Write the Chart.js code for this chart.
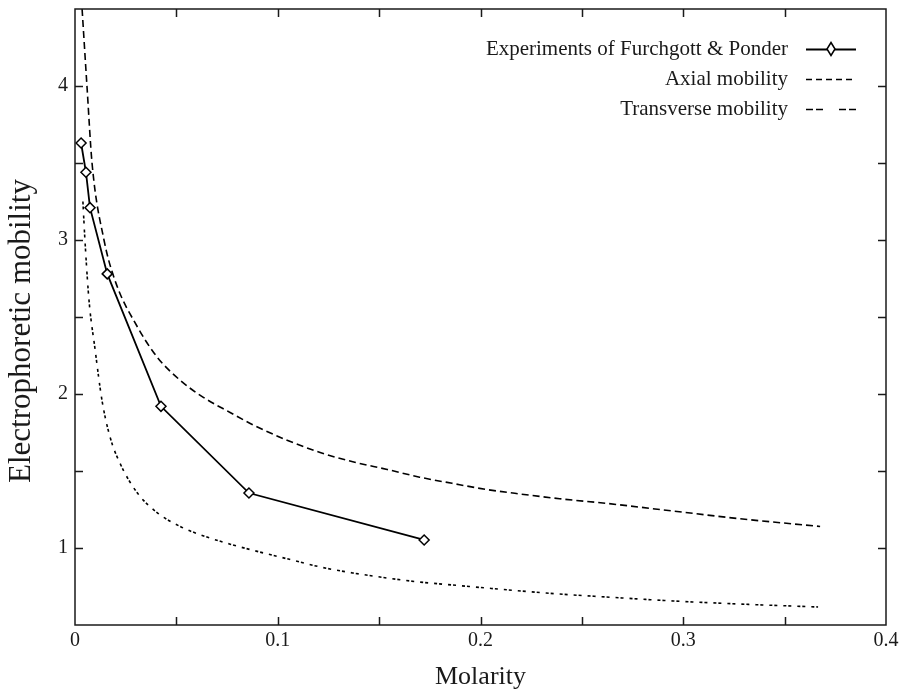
<!DOCTYPE html>
<html>
<head>
<meta charset="utf-8">
<script src="https://cdn.jsdelivr.net/npm/chart.js@4.4.0/dist/chart.umd.min.js"></script>
<style>
html,body{margin:0;padding:0;background:#ffffff;}
#wrap{width:903px;height:696px;}
</style>
</head>
<body>
<div id="wrap"><canvas id="c" width="903" height="696"></canvas></div>
<script>
// ---- data ----
const seriesLabels = ['Experiments of Furchgott & Ponder', 'Axial mobility', 'Transverse mobility'];

const expX = [0.0030, 0.0054, 0.0074, 0.0159, 0.0424, 0.0858, 0.1722];
const expY = [3.63, 3.44, 3.21, 2.78, 1.92, 1.357, 1.052];

const axialX = [0.0035, 0.0059, 0.0084, 0.0143, 0.0202, 0.0306, 0.0405, 0.0518, 0.0631, 0.0765, 0.0878, 0.1046, 0.1209, 0.137, 0.154, 0.170, 0.186, 0.203, 0.220, 0.239, 0.262, 0.295, 0.328, 0.3675];
const axialY = [4.5, 4.0, 3.5, 3.0, 2.72, 2.44, 2.24, 2.09, 1.98, 1.88, 1.80, 1.70, 1.62, 1.56, 1.51, 1.46, 1.42, 1.38, 1.35, 1.32, 1.29, 1.24, 1.19, 1.14];

const transX = [0.0039, 0.0049, 0.0069, 0.0099, 0.0133, 0.0173, 0.0222, 0.0306, 0.0405, 0.0518, 0.0631, 0.0765, 0.0878, 0.1046, 0.1209, 0.137, 0.154, 0.170, 0.186, 0.203, 0.220, 0.239, 0.262, 0.295, 0.328, 0.3665];
const transY = [3.25, 3.0, 2.61, 2.29, 1.96, 1.72, 1.55, 1.36, 1.23, 1.14, 1.08, 1.025, 0.985, 0.93, 0.877, 0.838, 0.805, 0.779, 0.760, 0.740, 0.721, 0.701, 0.682, 0.656, 0.636, 0.617];

const xTickLabels = ['0', '0.1', '0.2', '0.3', '0.4'];
const yTickLabels = ['1', '2', '3', '4'];
const xTitle = 'Molarity';
const yTitle = 'Electrophoretic mobility';

// ---- build ----
const pts = (xs, ys) => xs.map((x, i) => ({x: x, y: ys[i]}));
const FONT = '"Liberation Serif", "Times New Roman", serif';
const INK = '#1a1a1a';

const frameAndTicks = {
  id: 'frameAndTicks',
  afterDatasetsDraw(chart) {
    const {ctx, chartArea: a, scales: {x, y}} = chart;
    ctx.save();
    ctx.strokeStyle = INK;
    ctx.lineWidth = 1.5;
    const L = 8;
    ctx.beginPath();
    x.ticks.forEach(t => {
      const px = Math.round(x.getPixelForValue(t.value)) + 0.5;
      if (px <= a.left + 2 || px >= a.right - 2) return;
      ctx.moveTo(px, a.bottom); ctx.lineTo(px, a.bottom - L);
      ctx.moveTo(px, a.top); ctx.lineTo(px, a.top + L);
    });
    y.ticks.forEach(t => {
      const py = Math.round(y.getPixelForValue(t.value)) + 0.5;
      if (py <= a.top + 2 || py >= a.bottom - 2) return;
      ctx.moveTo(a.left, py); ctx.lineTo(a.left + L, py);
      ctx.moveTo(a.right, py); ctx.lineTo(a.right - L, py);
    });
    ctx.stroke();
    ctx.strokeRect(a.left, a.top, a.right - a.left, a.bottom - a.top);
    ctx.restore();
  }
};

const yTitlePlugin = {
  id: 'yTitle',
  afterDraw(chart, args, opts) {
    const {ctx} = chart;
    ctx.save();
    ctx.translate(opts.x, opts.y);
    ctx.rotate(-Math.PI / 2);
    ctx.font = opts.size + 'px ' + FONT;
    ctx.fillStyle = INK;
    ctx.textAlign = 'center';
    ctx.textBaseline = 'middle';
    ctx.fillText(yTitle, 0, 0);
    ctx.restore();
  }
};

const legendPlugin = {
  id: 'customLegend',
  afterDraw(chart, args, opts) {
    const {ctx} = chart;
    ctx.save();
    ctx.font = '21px ' + FONT;
    ctx.fillStyle = INK;
    ctx.textAlign = 'right';
    ctx.textBaseline = 'middle';
    opts.rows.forEach((r, i) => {
      const yy = opts.y0 + i * opts.dy;
      ctx.fillText(chart.data.datasets[i].label, opts.textRight, yy);
      ctx.beginPath();
      ctx.setLineDash(r.dash);
      ctx.lineWidth = r.width;
      ctx.strokeStyle = '#000';
      ctx.moveTo(opts.x0, yy + 0.5);
      ctx.lineTo(opts.x1, yy + 0.5);
      ctx.stroke();
      ctx.setLineDash([]);
      if (r.marker) {
        const cx = (opts.x0 + opts.x1) / 2, s = 5;
        ctx.beginPath();
        ctx.moveTo(cx, yy - s * 1.3); ctx.lineTo(cx + s * 0.8, yy);
        ctx.lineTo(cx, yy + s * 1.3); ctx.lineTo(cx - s * 0.8, yy);
        ctx.closePath();
        ctx.fillStyle = '#fff'; ctx.fill();
        ctx.lineWidth = 1.5; ctx.stroke();
        ctx.fillStyle = INK;
      }
    });
    ctx.restore();
  }
};

new Chart(document.getElementById('c'), {
  type: 'scatter',
  data: {
    datasets: [
      {
        label: seriesLabels[0],
        data: pts(expX, expY),
        showLine: true,
        borderColor: '#000',
        borderWidth: 1.8,
        pointStyle: 'rectRot',
        pointRadius: 5,
        pointBorderWidth: 1.5,
        pointBackgroundColor: '#fff',
        pointBorderColor: '#000'
      },
      {
        label: seriesLabels[1],
        data: pts(axialX, axialY),
        showLine: true,
        borderColor: '#000',
        borderWidth: 1.6,
        borderDash: [7, 4],
        pointRadius: 0,
        cubicInterpolationMode: 'monotone'
      },
      {
        label: seriesLabels[2],
        data: pts(transX, transY),
        showLine: true,
        borderColor: '#000',
        borderWidth: 1.6,
        borderDash: [3, 2, 3, 6],
        pointRadius: 0,
        cubicInterpolationMode: 'monotone'
      }
    ]
  },
  options: {
    responsive: false,
    animation: false,
    devicePixelRatio: 1,
    layout: {padding: {left: 0, right: 17, top: 9, bottom: 0}},
    plugins: {
      legend: {display: false},
      tooltip: {enabled: false},
      yTitle: {x: 22, y: 331, size: 31},
      customLegend: {
        textRight: 788, x0: 806, x1: 856, y0: 49, dy: 30,
        rows: [
          {dash: [], width: 1.8, marker: true},
          {dash: [6, 4], width: 1.6},
          {dash: [7, 3, 7, 16], width: 1.6}
        ]
      }
    },
    scales: {
      x: {
        type: 'linear', position: 'bottom', min: 0, max: 0.4,
        afterFit(s) { s.height = 71; s.paddingLeft = 0; s.paddingRight = 0; },
        grid: {display: false, drawTicks: false},
        border: {display: false},
        ticks: {
          stepSize: 0.05, autoSkip: false, maxRotation: 0, padding: 4,
          color: INK, font: {family: FONT, size: 20},
          callback(v) {
            const k = Math.round(v * 10);
            return Math.abs(v * 10 - k) < 1e-6 ? xTickLabels[k] : '';
          }
        },
        title: {display: true, text: xTitle, color: INK, font: {family: FONT, size: 26, lineHeight: 1}, padding: {top: 0, bottom: 6}}
      },
      y: {
        type: 'linear', position: 'left', min: 0.5, max: 4.5,
        afterFit(s) { s.width = 75; s.paddingTop = 0; s.paddingBottom = 0; },
        grid: {display: false, drawTicks: false},
        border: {display: false},
        ticks: {
          stepSize: 0.5, autoSkip: false, padding: 7,
          color: INK, font: {family: FONT, size: 20},
          callback(v) {
            const k = Math.round(v);
            return Math.abs(v - k) < 1e-6 ? yTickLabels[k - 1] : '';
          }
        },
        title: {display: false}
      }
    }
  },
  plugins: [frameAndTicks, legendPlugin, yTitlePlugin]
});
</script>
</body>
</html>
